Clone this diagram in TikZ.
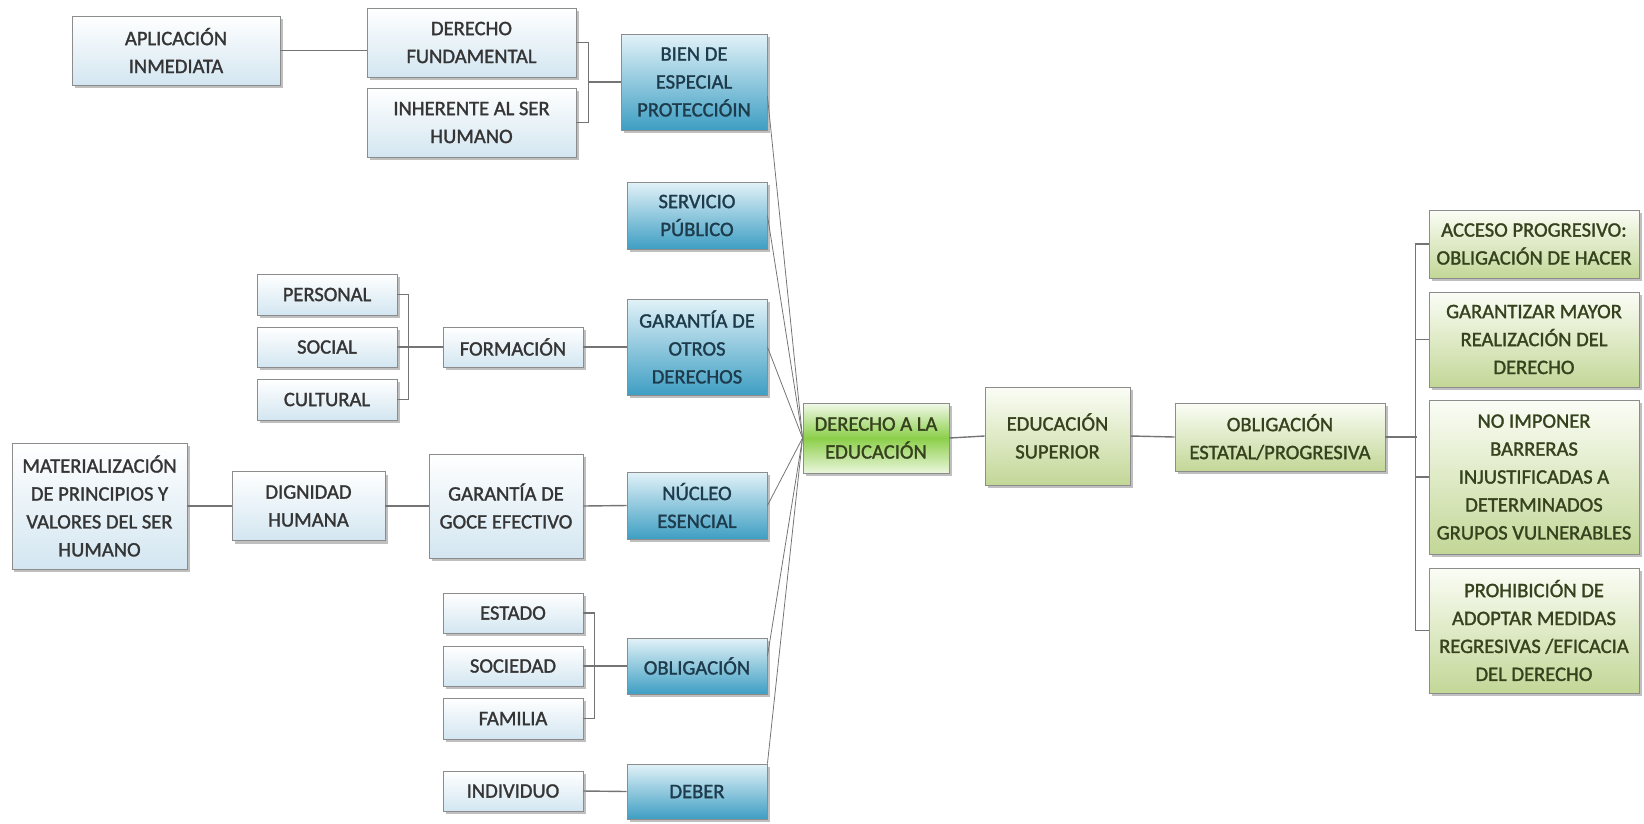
\documentclass[tikz,border=0pt]{standalone}
\usepackage{fontspec}
\newfontfamily\boxfont{Carlito}[FakeBold=1.4]
\usetikzlibrary{shadows}

\definecolor{boxline}{HTML}{8C8C8C}
\definecolor{linegray}{HTML}{747474}
\definecolor{lightbot}{HTML}{D3E6F1}
\definecolor{bluetop}{HTML}{E2F2F8}
\definecolor{bluebot}{HTML}{3E9EC3}
\definecolor{greentop}{HTML}{FBFDF6}
\definecolor{greenbot}{HTML}{C3D797}
\definecolor{limetop}{HTML}{F2F9EA}
\definecolor{limemid}{HTML}{8CCF4A}
\definecolor{limebot}{HTML}{EAF6DC}
\definecolor{txtgray}{HTML}{353535}
\definecolor{txtblue}{HTML}{1E3B4C}
\definecolor{txtgreen}{HTML}{35421D}

\tikzset{
  dims/.style 2 args={minimum width=#1*0.02cm, minimum height=#2*0.02cm},
  box/.style={draw=boxline, line width=0.5pt, align=center, inner sep=0pt,
    font=\boxfont\fontsize{11.7pt}{15.9pt}\selectfont,
    drop shadow={shadow xshift=0.05cm, shadow yshift=-0.06cm, opacity=0.5}},
  lightbox/.style={box, top color=white, bottom color=lightbot, text=txtgray},
  bluebox/.style={box, top color=bluetop, bottom color=bluebot, text=txtblue},
  greenbox/.style={box, top color=greentop, bottom color=greenbot, text=txtgreen},
  limebox/.style={box, top color=limetop, bottom color=limebot, middle color=limemid, text=txtgreen},
  link/.style={draw=linegray, line width=0.8pt},
  fan/.style={draw=linegray, line width=0.45pt}
}

\begin{document}
\begin{tikzpicture}[x=0.02cm, y=-0.02cm]
\useasboundingbox (0,0) rectangle (1644,823);

% left column
\node[lightbox, dims={208}{69}] (apli) at (176,50.5) {APLICACIÓN\\INMEDIATA};
\node[lightbox, dims={175}{126}] (mater) at (99.5,506) {MATERIALIZACIÓN\\DE PRINCIPIOS Y\\VALORES DEL SER\\HUMANO};
\node[lightbox, dims={153}{69}] (dignidad) at (308.5,506) {DIGNIDAD\\HUMANA};

% second column
\node[lightbox, dims={209}{69}] (derfund) at (471.5,42.5) {DERECHO\\FUNDAMENTAL};
\node[lightbox, dims={209}{69}] (inher) at (471.5,122.5) {INHERENTE AL SER\\HUMANO};
\node[lightbox, dims={140}{41}] (personal) at (327,294.5) {PERSONAL};
\node[lightbox, dims={140}{40}] (social) at (327,347) {SOCIAL};
\node[lightbox, dims={140}{41}] (cultural) at (327,399.5) {CULTURAL};
\node[lightbox, dims={140}{40}] (formacion) at (513,347) {FORMACIÓN};
\node[lightbox, dims={154}{104}] (gargoce) at (506,506) {GARANTÍA DE\\GOCE EFECTIVO};
\node[lightbox, dims={140}{40}] (estado) at (513,613) {ESTADO};
\node[lightbox, dims={140}{40}] (sociedad) at (513,666) {SOCIEDAD};
\node[lightbox, dims={140}{41}] (familia) at (513,718.5) {FAMILIA};
\node[lightbox, dims={140}{40}] (individuo) at (513,791) {INDIVIDUO};

% blue column
\node[bluebox, dims={146}{96}] (bien) at (694,82) {BIEN DE\\ESPECIAL\\PROTECCIÓIN};
\node[bluebox, dims={140}{67}] (serv) at (697,215.5) {SERVICIO\\PÚBLICO};
\node[bluebox, dims={140}{96}] (garotros) at (697,347) {GARANTÍA DE\\OTROS\\DERECHOS};
\node[bluebox, dims={140}{67}] (nucleo) at (697,505.5) {NÚCLEO\\ESENCIAL};
\node[bluebox, dims={140}{56}] (obligacion) at (697,666) {OBLIGACIÓN};
\node[bluebox, dims={140}{55}] (deber) at (697,791.5) {DEBER};

% center and right
\node[limebox, dims={146}{70}] (derecho) at (876,438) {DERECHO A LA\\EDUCACIÓN};
\node[greenbox, dims={145}{98}] (edusup) at (1057.5,436) {EDUCACIÓN\\SUPERIOR};
\node[greenbox, dims={210}{68}] (obligest) at (1280,437) {OBLIGACIÓN\\ESTATAL/PROGRESIVA};
\node[greenbox, dims={210}{68}] (acceso) at (1534,244) {ACCESO PROGRESIVO:\\OBLIGACIÓN DE HACER};
\node[greenbox, dims={210}{95}] (garantizar) at (1534,339.5) {GARANTIZAR MAYOR\\REALIZACIÓN DEL\\DERECHO};
\node[greenbox, dims={210}{154}] (noimponer) at (1534,477) {NO IMPONER\\BARRERAS\\INJUSTIFICADAS A\\DETERMINADOS\\GRUPOS VULNERABLES};
\node[greenbox, dims={210}{125}] (prohibicion) at (1534,630.5) {PROHIBICIÓN DE\\ADOPTAR MEDIDAS\\REGRESIVAS /EFICACIA\\DEL DERECHO};

% links
\draw[link] (apli.east) -- (apli.east -| derfund.west);
\draw[link] (derfund.east) -- ++(12,0) coordinate (bk1) |- (inher.east);
\draw[link] (bk1 |- bien.west) -- (bien.west);
\draw[link] (personal.east) -- ++(11,0) coordinate (bk2) |- (cultural.east);
\draw[link] (social.east) -- (formacion.west);
\draw[link] (formacion.east) -- (garotros.west);
\draw[link] (mater.east) -- (dignidad.west);
\draw[link] (dignidad.east) -- (gargoce.west);
\draw[link] (gargoce.east) -- (nucleo.west);
\draw[link] (estado.east) -- ++(11,0) coordinate (bk3) |- (familia.east);
\draw[link] (sociedad.east) -- (obligacion.west);
\draw[link] (individuo.east) -- (deber.west);

% fan into the center
\foreach \src in {bien.-11, serv.east, garotros.east, nucleo.east, obligacion.8, deber.north east}
  \draw[fan] (\src) -- (derecho.west);

\draw[link] (derecho.east) -- (edusup.west);
\draw[link] (edusup.east) -- (obligest.west);
\draw[link] (obligest.east) -- ++(32,0);
\draw[link] (acceso.west) -- ++(-13,0) |- (prohibicion.west);
\draw[link] (garantizar.west) -- ++(-13,0);
\draw[link] (noimponer.west) -- ++(-13,0);

\end{tikzpicture}
\end{document}
